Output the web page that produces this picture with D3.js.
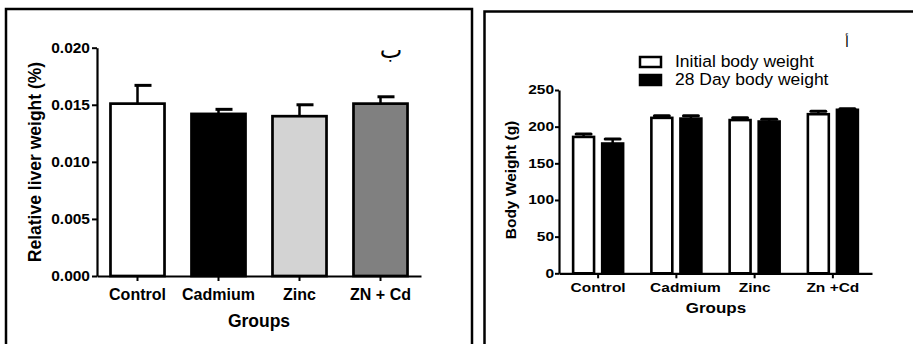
<!DOCTYPE html>
<html>
<head>
<meta charset="utf-8">
<script src="https://cdn.jsdelivr.net/npm/d3@7"></script>
<style>
  body { margin: 0; background: #fff; }
  svg { display: block; font-family: "Liberation Sans", Arial, sans-serif; }
  .sq { transform-box: fill-box; transform-origin: center; }
</style>
</head>
<body>
<svg id="chart" width="913" height="344"></svg>
<script>
// left panel: relative liver weight
const liverGroups = ["Control", "Cadmium", "Zinc", "ZN + Cd"];
const liverMean = [0.0151, 0.0142, 0.0140, 0.0151];
const liverErr = [0.0016, 0.0004, 0.0010, 0.0006];
const liverFill = ["#ffffff", "#000000", "#d3d3d3", "#808080"];
const liverTicks = [0, 0.005, 0.010, 0.015, 0.020];

// right panel: body weight
const weightGroups = ["Control", "Cadmium", "Zinc", "Zn +Cd"];
const weightSeries = ["Initial body weight", "28 Day body weight"];
const initialMean = [186, 212, 209, 217];
const initialErr = [4, 3, 3, 4];
const day28Mean = [177, 211, 207, 223];
const day28Err = [6, 4, 3, 1.5];
const seriesFill = ["#ffffff", "#000000"];
const weightTicks = [0, 50, 100, 150, 200, 250];

const svg = d3.select("#chart");

// panel frames
svg.append("rect")
  .attr("x", 6).attr("y", 9).attr("width", 466).attr("height", 360)
  .attr("fill", "none").attr("stroke", "#000").attr("stroke-width", 2.5);
svg.append("rect")
  .attr("x", 484.5).attr("y", 11.5).attr("width", 440).attr("height", 360)
  .attr("fill", "none").attr("stroke", "#000").attr("stroke-width", 2.5);

function styleAxis(g, size) {
  g.select(".domain").attr("stroke-width", 2.2);
  g.selectAll(".tick line").attr("stroke-width", 2);
  g.selectAll(".tick text")
    .attr("fill", "#000")
    .style("font-size", size + "px")
    .style("font-weight", "bold");
}

// ---------- left chart ----------
const xL = d3.scaleBand().domain(liverGroups).range([97, 421])
  .paddingInner(0.333).paddingOuter(0.1665);
const yL = d3.scaleLinear().domain([0, 0.02]).range([276, 47.7]);

const left = svg.append("g");

left.selectAll(".err")
  .data(liverGroups)
  .join("g")
  .each(function(d, i) {
    const cx = xL(d) + xL.bandwidth() / 2;
    const g = d3.select(this);
    g.append("line")
      .attr("x1", cx).attr("x2", cx)
      .attr("y1", yL(liverMean[i])).attr("y2", yL(liverMean[i] + liverErr[i]))
      .attr("stroke", "#000").attr("stroke-width", 2.5);
    g.append("line")
      .attr("x1", cx - 3).attr("x2", cx + 14)
      .attr("y1", yL(liverMean[i] + liverErr[i])).attr("y2", yL(liverMean[i] + liverErr[i]))
      .attr("stroke", "#000").attr("stroke-width", 3);
  });

left.selectAll(".bar")
  .data(liverGroups)
  .join("rect")
  .attr("x", d => xL(d))
  .attr("width", xL.bandwidth())
  .attr("y", (d, i) => yL(liverMean[i]))
  .attr("height", (d, i) => yL(0) - yL(liverMean[i]))
  .attr("fill", (d, i) => liverFill[i])
  .attr("stroke", "#000")
  .attr("stroke-width", 2.7);

left.append("g")
  .attr("transform", "translate(97,0)")
  .call(d3.axisLeft(yL).tickValues(liverTicks).tickFormat(d3.format(".3f"))
    .tickSize(5).tickSizeOuter(0).tickPadding(2))
  .call(g => styleAxis(g, 15.5));

left.append("g")
  .attr("transform", "translate(0,276)")
  .call(d3.axisBottom(xL).tickSize(5).tickSizeOuter(0).tickPadding(7.5))
  .call(g => styleAxis(g, 16));

left.append("text")
  .attr("x", 259).attr("y", 327)
  .attr("text-anchor", "middle")
  .style("font-size", "17.5px").style("font-weight", "bold")
  .text("Groups");

left.append("text")
  .attr("transform", "translate(41,162) rotate(-90)")
  .attr("text-anchor", "middle")
  .style("font-size", "17.5px").style("font-weight", "bold")
  .text("Relative liver weight (%)");

left.append("text")
  .attr("x", 391).attr("y", 58)
  .attr("text-anchor", "middle")
  .attr("fill", "#000")
  .style("font-family", "'DejaVu Sans', sans-serif")
  .style("font-size", "24px")
  .text("ب");

// ---------- right chart ----------
const xR = d3.scaleBand().domain(weightGroups).range([559, 872]);
const xR1 = d3.scaleBand().domain(weightSeries)
  .range([xR.bandwidth() / 2 - 25, xR.bandwidth() / 2 + 25]).paddingInner(0.28);
const yR = d3.scaleLinear().domain([0, 250]).range([273.3, 90]);

const right = svg.append("g");
const means = [initialMean, day28Mean];
const errs = [initialErr, day28Err];

const grp = right.selectAll(".grp")
  .data(weightGroups)
  .join("g")
  .attr("transform", d => `translate(${xR(d)},0)`);

weightSeries.forEach((s, si) => {
  grp.each(function(d, i) {
    const g = d3.select(this);
    const x0 = xR1(s), bw = xR1.bandwidth(), cx = x0 + bw / 2;
    const top = yR(means[si][i] + errs[si][i]);
    g.append("line")
      .attr("x1", cx).attr("x2", cx)
      .attr("y1", yR(means[si][i])).attr("y2", top)
      .attr("stroke", "#000").attr("stroke-width", 2.5);
    g.append("line")
      .attr("x1", x0 + 3).attr("x2", x0 + bw - 3)
      .attr("y1", top).attr("y2", top)
      .attr("stroke", "#000").attr("stroke-width", 3)
      .attr("stroke-linecap", "round");
    g.append("rect")
      .attr("x", x0).attr("width", bw)
      .attr("y", yR(means[si][i]))
      .attr("height", yR(0) - yR(means[si][i]))
      .attr("fill", seriesFill[si])
      .attr("stroke", "#000").attr("stroke-width", 2.6);
  });
});

right.append("g")
  .attr("transform", "translate(559,0)")
  .call(d3.axisLeft(yR).tickValues(weightTicks).tickSize(4).tickSizeOuter(0).tickPadding(1))
  .call(g => styleAxis(g, 15.5))
  .call(g => g.selectAll(".tick text").classed("sq", true).style("transform", "scaleY(0.8)"));

right.append("g")
  .attr("transform", "translate(0,273.3)")
  .call(d3.axisBottom(xR).tickSize(5).tickSizeOuter(0).tickPadding(3.4))
  .call(g => styleAxis(g, 15.5))
  .call(g => g.selectAll(".tick text").classed("sq", true).style("transform", "scaleY(0.85)"))
  .call(g => g.selectAll(".tick text").filter(d => d === "Cadmium").attr("dx", 9));

right.append("text")
  .attr("x", 716).attr("y", 313.5)
  .attr("text-anchor", "middle")
  .classed("sq", true).style("transform", "scaleY(0.85)")
  .style("font-size", "17px").style("font-weight", "bold")
  .text("Groups");

right.append("text")
  .attr("transform", "translate(516,180) rotate(-90)")
  .attr("text-anchor", "middle")
  .style("font-size", "15.5px").style("font-weight", "bold")
  .text("Body Weight (g)");

right.append("text")
  .attr("x", 847).attr("y", 47)
  .attr("text-anchor", "middle")
  .attr("fill", "#000")
  .style("font-family", "'DejaVu Sans', sans-serif")
  .style("font-size", "14px")
  .text("أ");

// legend
const yLeg = d3.scalePoint().domain(weightSeries).range([62, 80]);
const leg = right.selectAll(".leg")
  .data(weightSeries)
  .join("g")
  .attr("transform", d => `translate(640,${yLeg(d)})`);
leg.append("rect")
  .attr("x", 0).attr("y", -5).attr("width", 21).attr("height", 10)
  .attr("fill", (d, i) => seriesFill[i])
  .attr("stroke", "#000").attr("stroke-width", 2.5);
leg.append("text")
  .attr("x", 35).attr("y", 5.5)
  .classed("sq", true).style("transform", "scaleY(0.9)")
  .style("font-size", "17.5px")
  .text(d => d);
</script>
</body>
</html>
